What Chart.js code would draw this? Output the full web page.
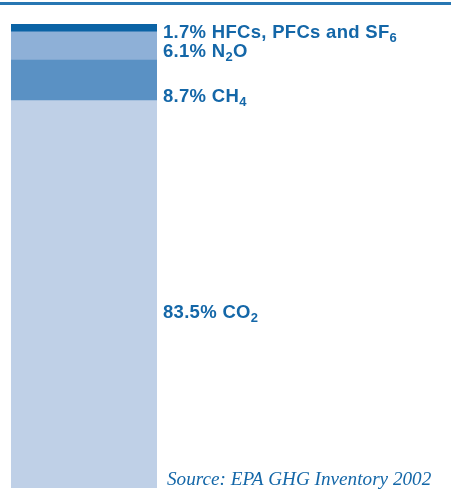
<!DOCTYPE html>
<html>
<head>
<meta charset="utf-8">
<script src="https://cdn.jsdelivr.net/npm/chart.js@4"></script>
<style>
  html, body { margin: 0; padding: 0; background: #fff; }
  #wrap { position: relative; width: 451px; height: 504px; }
</style>
</head>
<body>
<div id="wrap"><canvas id="chart" width="451" height="504"></canvas></div>
<script>
// shares of US greenhouse gas emissions, bottom of the stack first
const gases = ["CO2", "CH4", "N2O", "HFCs, PFCs and SF6"];
const shares = [83.5, 8.7, 6.1, 1.7];
const colors = ["#bfd0e7", "#5a91c4", "#8eb0d7", "#0b63a5"];
// label text split into [main, subscript, tail]
const labelParts = [
  ["83.5% CO", "2", ""],
  ["8.7% CH", "4", ""],
  ["6.1% N", "2", "O"],
  ["1.7% HFCs, PFCs and SF", "6", ""],
];
const sourceNote = "Source: EPA GHG Inventory 2002";

const ink = "#1467a8";
const labelFont = "bold 18.5px 'Liberation Sans', Arial, sans-serif";
const subFont = "bold 13px 'Liberation Sans', Arial, sans-serif";

const decor = {
  id: "decor",
  beforeDraw(chart) {
    const ctx = chart.ctx;
    ctx.save();
    ctx.fillStyle = "#2777b3";
    ctx.fillRect(0, 2, chart.width, 3);
    ctx.restore();
  },
  afterDatasetsDraw(chart, args, opts) {
    const ctx = chart.ctx;
    ctx.save();
    ctx.fillStyle = ink;
    ctx.textBaseline = "alphabetic";
    chart.data.datasets.forEach((ds, i) => {
      const bar = chart.getDatasetMeta(i).data[0];
      const x = bar.x + bar.width / 2 + 6;
      const y = bar.base + opts.offsets[i];
      const [main, sub, tail] = labelParts[i];
      ctx.letterSpacing = "0.3px";
      ctx.font = labelFont;
      ctx.fillText(main, x, y);
      let cx = x + ctx.measureText(main).width;
      ctx.font = subFont;
      ctx.fillText(sub, cx, y + 4);
      cx += ctx.measureText(sub).width;
      ctx.font = labelFont;
      if (tail) ctx.fillText(tail, cx, y);
    });
    ctx.letterSpacing = "0px";
    ctx.font = "italic 19.2px 'Liberation Serif', 'Times New Roman', serif";
    ctx.textAlign = "left";
    ctx.fillText(sourceNote, 167, 485);
    ctx.restore();
  },
};

new Chart(document.getElementById("chart"), {
  type: "bar",
  data: {
    labels: ["Emissions"],
    datasets: gases.map((g, i) => ({
      label: g,
      data: [shares[i]],
      backgroundColor: colors[i],
      borderWidth: 0,
      barPercentage: 1,
      categoryPercentage: 1,
    })),
  },
  options: {
    responsive: false,
    animation: false,
    layout: { padding: { left: 11, right: 294, top: 24, bottom: 16 } },
    scales: {
      x: { stacked: true, display: false },
      y: { stacked: true, display: false, min: 0, max: 100 },
    },
    plugins: {
      legend: { display: false },
      tooltip: { enabled: false },
      decor: { offsets: [-170, 1, -3, 6] },
    },
  },
  plugins: [decor],
});
</script>
</body>
</html>
